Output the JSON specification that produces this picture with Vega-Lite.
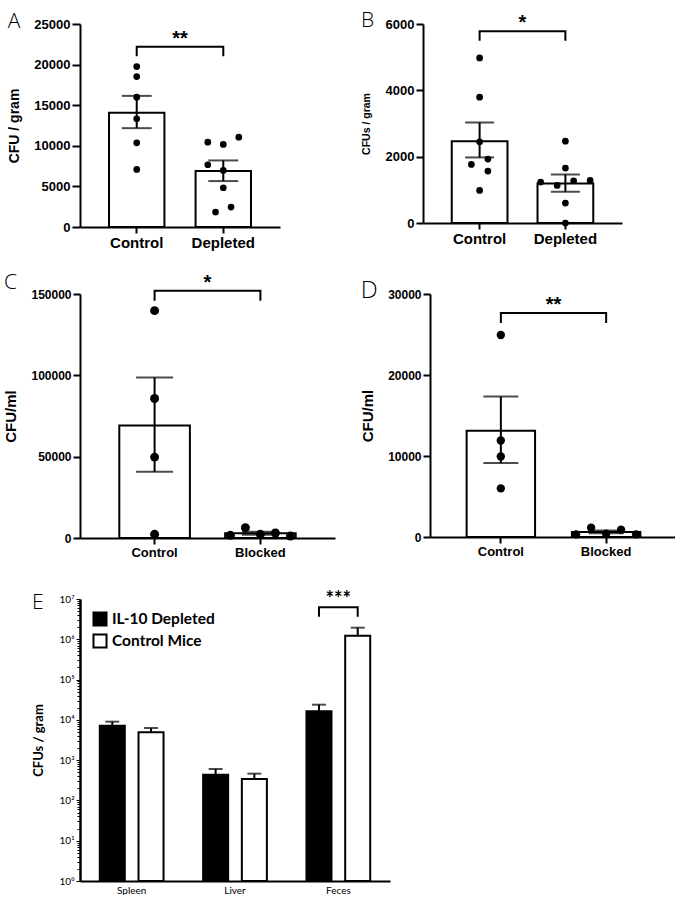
{
  "$schema": "https://vega.github.io/schema/vega-lite/v6.json",
  "padding": {"left": 3, "top": 10, "right": 0, "bottom": 0},
  "background": "white",
  "datasets": {
    "a_sum": [{"g": "Control", "mean": 14057, "lo": 12172, "hi": 16148}, {"g": "Depleted", "mean": 6885, "lo": 5656, "hi": 8197}],
    "a_pts": [
      {"g": "Control", "v": 19754, "lane": 0}, {"g": "Control", "v": 18525, "lane": 0}, {"g": "Control", "v": 15984, "lane": 0},
      {"g": "Control", "v": 13320, "lane": 0}, {"g": "Control", "v": 10369, "lane": 0}, {"g": "Control", "v": 7090, "lane": 0},
      {"g": "Depleted", "v": 10451, "lane": -1}, {"g": "Depleted", "v": 10164, "lane": 0}, {"g": "Depleted", "v": 11066, "lane": 1},
      {"g": "Depleted", "v": 7664, "lane": -1}, {"g": "Depleted", "v": 6967, "lane": 0}, {"g": "Depleted", "v": 4836, "lane": 0},
      {"g": "Depleted", "v": 2459, "lane": 0.5}, {"g": "Depleted", "v": 1844, "lane": -0.5}
    ],
    "a_br": [{"g": "Control", "v": 21024, "o": 1}, {"g": "Control", "v": 22213, "o": 2}, {"g": "Depleted", "v": 22213, "o": 3}, {"g": "Depleted", "v": 21024, "o": 4}],
    "a_txt": [{"g": "Control", "v": 22213, "t": "**"}],
    "b_sum": [{"g": "Control", "mean": 2468, "lo": 1977, "hi": 3030}, {"g": "Depleted", "mean": 1194, "lo": 943, "hi": 1465}],
    "b_pts": [
      {"g": "Control", "v": 4977, "lane": 0}, {"g": "Control", "v": 3793, "lane": 0}, {"g": "Control", "v": 2448, "lane": 0},
      {"g": "Control", "v": 1926, "lane": 0.5}, {"g": "Control", "v": 1766, "lane": -0.5}, {"g": "Control", "v": 1565, "lane": 0.5},
      {"g": "Control", "v": 983, "lane": 0},
      {"g": "Depleted", "v": 2468, "lane": 0}, {"g": "Depleted", "v": 1656, "lane": 0}, {"g": "Depleted", "v": 1234, "lane": -1.5},
      {"g": "Depleted", "v": 1134, "lane": -0.5}, {"g": "Depleted", "v": 1274, "lane": 0.5}, {"g": "Depleted", "v": 1284, "lane": 1.5},
      {"g": "Depleted", "v": 602, "lane": 0}, {"g": "Depleted", "v": 0, "lane": 0}
    ],
    "b_br": [{"g": "Control", "v": 5498, "o": 1}, {"g": "Control", "v": 5779, "o": 2}, {"g": "Depleted", "v": 5779, "o": 3}, {"g": "Depleted", "v": 5498, "o": 4}],
    "b_txt": [{"g": "Control", "v": 5779, "t": "*"}],
    "c_sum": [{"g": "Control", "mean": 69168, "lo": 40723, "hi": 98636}, {"g": "Blocked", "mean": 2906, "lo": 1992, "hi": 3820}],
    "c_pts": [
      {"g": "Control", "v": 139768, "lane": 0}, {"g": "Control", "v": 85743, "lane": 0}, {"g": "Control", "v": 49727, "lane": 0}, {"g": "Control", "v": 2251, "lane": 0},
      {"g": "Blocked", "v": 1637, "lane": -2}, {"g": "Blocked", "v": 6344, "lane": -1}, {"g": "Blocked", "v": 2251, "lane": 0},
      {"g": "Blocked", "v": 3070, "lane": 1}, {"g": "Blocked", "v": 1228, "lane": 2}
    ],
    "c_br": [{"g": "Control", "v": 145907, "o": 1}, {"g": "Control", "v": 152046, "o": 2}, {"g": "Blocked", "v": 152046, "o": 3}, {"g": "Blocked", "v": 145907, "o": 4}],
    "c_txt": [{"g": "Control", "v": 152046, "t": "*"}],
    "d_sum": [{"g": "Control", "mean": 13110, "lo": 9123, "hi": 17342}, {"g": "Blocked", "mean": 625, "lo": 455, "hi": 795}],
    "d_pts": [
      {"g": "Control", "v": 24945, "lane": 0}, {"g": "Control", "v": 11918, "lane": 0}, {"g": "Control", "v": 9945, "lane": 0}, {"g": "Control", "v": 6000, "lane": 0},
      {"g": "Blocked", "v": 329, "lane": -2}, {"g": "Blocked", "v": 1151, "lane": -1}, {"g": "Blocked", "v": 411, "lane": 0},
      {"g": "Blocked", "v": 904, "lane": 1}, {"g": "Blocked", "v": 329, "lane": 2}
    ],
    "d_br": [{"g": "Control", "v": 26425, "o": 1}, {"g": "Control", "v": 27658, "o": 2}, {"g": "Blocked", "v": 27658, "o": 3}, {"g": "Blocked", "v": 26425, "o": 4}],
    "d_txt": [{"g": "Control", "v": 27658, "t": "**"}],
    "e_bars": [
      {"site": "Spleen", "group": "IL-10 Depleted", "mean": 7175, "hi": 9010},
      {"site": "Spleen", "group": "Control Mice", "mean": 4900, "hi": 6280},
      {"site": "Liver", "group": "IL-10 Depleted", "mean": 436, "hi": 602},
      {"site": "Liver", "group": "Control Mice", "mean": 340, "hi": 462},
      {"site": "Feces", "group": "IL-10 Depleted", "mean": 16270, "hi": 23800},
      {"site": "Feces", "group": "Control Mice", "mean": 1230000, "hi": 1940000}
    ],
    "e_br": [
      {"site": "Feces", "group": "IL-10 Depleted", "v": 3640000, "o": 1},
      {"site": "Feces", "group": "IL-10 Depleted", "v": 6200000, "o": 2},
      {"site": "Feces", "group": "Control Mice", "v": 6200000, "o": 3},
      {"site": "Feces", "group": "Control Mice", "v": 3640000, "o": 4}
    ],
    "e_txt": [{"site": "Feces", "v": 6200000, "t": "***"}]
  },
  "config": {
    "view": {"stroke": null},
    "font": "Liberation Sans",
    "axis": {
      "grid": false, "domainColor": "black", "domainWidth": 2, "tickColor": "black", "tickWidth": 2,
      "labelColor": "black", "titleColor": "black", "labelFont": "Liberation Sans", "titleFont": "Liberation Sans",
      "labelFontWeight": "bold", "titleFontWeight": "bold"
    },
    "title": {"anchor": "start", "frame": "bounds", "baseline": "alphabetic", "font": "Open Sans", "fontWeight": 300, "fontSize": 21, "color": "black"}
  },
  "resolve": {"legend": {"fill": "independent"}, "scale": {"fill": "independent"}},
  "vconcat": [
    {
      "vconcat": [
        {
          "hconcat": [
            {
              "width": 200, "height": 203,
              "title": {"text": "A", "offset": -14},
              "resolve": {"scale": {"xOffset": "independent"}},
              "layer": [
                {"data": {"name": "a_sum"}, "mark": {"type": "bar", "fill": "white", "stroke": "black", "strokeWidth": 2, "width": {"band": 0.64}},
                 "encoding": {
                   "x": {"field": "g", "type": "nominal", "sort": ["Control", "Depleted"], "scale": {"paddingInner": 0, "paddingOuter": 0.155},
                         "axis": {"title": null, "labelAngle": 0, "labelFontSize": 15, "tickSize": 6, "labelPadding": 2}},
                   "y": {"field": "mean", "type": "quantitative", "scale": {"domain": [0, 25000], "nice": false},
                         "axis": {"title": "CFU / gram", "values": [0, 5000, 10000, 15000, 20000, 25000], "format": "d", "labelFontSize": 13, "titleFontSize": 14, "tickSize": 8, "labelPadding": 2, "titlePadding": 12}}
                 }},
                {"data": {"name": "a_sum"}, "mark": {"type": "rule", "color": "black", "strokeWidth": 2},
                 "encoding": {"x": {"field": "g", "type": "nominal", "sort": ["Control", "Depleted"]}, "y": {"field": "lo", "type": "quantitative"}, "y2": {"field": "hi"}}},
                {"data": {"name": "a_sum"}, "mark": {"type": "tick", "color": "black", "thickness": 2, "size": 30, "orient": "horizontal"},
                 "encoding": {"x": {"field": "g", "type": "nominal", "sort": ["Control", "Depleted"]}, "y": {"field": "hi", "type": "quantitative"}}},
                {"data": {"name": "a_sum"}, "mark": {"type": "tick", "color": "black", "thickness": 2, "size": 30, "orient": "horizontal"},
                 "encoding": {"x": {"field": "g", "type": "nominal", "sort": ["Control", "Depleted"]}, "y": {"field": "lo", "type": "quantitative"}}},
                {"data": {"name": "a_br"}, "mark": {"type": "line", "color": "black", "strokeWidth": 2},
                 "encoding": {"x": {"field": "g", "type": "nominal", "sort": ["Control", "Depleted"]}, "y": {"field": "v", "type": "quantitative"}, "order": {"field": "o"}}},
                {"data": {"name": "a_txt"}, "mark": {"type": "text", "font": "Liberation Sans", "fontWeight": "bold", "fontSize": 20, "baseline": "alphabetic", "dy": -2},
                 "encoding": {"x": {"field": "g", "type": "nominal", "sort": ["Control", "Depleted"], "bandPosition": 1}, "y": {"field": "v", "type": "quantitative"}, "text": {"field": "t"}}},
                {"data": {"name": "a_pts"}, "mark": {"type": "circle", "color": "black", "opacity": 1, "size": 45},
                 "encoding": {"x": {"field": "g", "type": "nominal", "sort": ["Control", "Depleted"]},
                   "xOffset": {"field": "lane", "type": "quantitative", "scale": {"domain": [-1, 1], "range": [27.8, 58.8]}},
                   "y": {"field": "v", "type": "quantitative"}}}
              ]
            },
            {
              "width": 199, "height": 199,
              "title": {"text": "B", "offset": -18},
              "resolve": {"scale": {"xOffset": "independent"}},
              "layer": [
                {"data": {"name": "b_sum"}, "mark": {"type": "bar", "fill": "white", "stroke": "black", "strokeWidth": 2, "width": {"band": 0.65}},
                 "encoding": {
                   "x": {"field": "g", "type": "nominal", "sort": ["Control", "Depleted"], "scale": {"paddingInner": 0, "paddingOuter": 0.16},
                         "axis": {"title": null, "labelAngle": 0, "labelFontSize": 15, "tickSize": 6, "labelPadding": 2}},
                   "y": {"field": "mean", "type": "quantitative", "scale": {"domain": [0, 6000], "nice": false},
                         "axis": {"title": "CFUs / gram", "values": [0, 2000, 4000, 6000], "format": "d", "labelFontSize": 13, "titleFontSize": 10.5, "tickSize": 7, "labelPadding": 2, "titlePadding": 14}}
                 }},
                {"data": {"name": "b_sum"}, "mark": {"type": "rule", "color": "black", "strokeWidth": 2},
                 "encoding": {"x": {"field": "g", "type": "nominal", "sort": ["Control", "Depleted"]}, "y": {"field": "lo", "type": "quantitative"}, "y2": {"field": "hi"}}},
                {"data": {"name": "b_sum"}, "mark": {"type": "tick", "color": "black", "thickness": 2, "size": 29, "orient": "horizontal"},
                 "encoding": {"x": {"field": "g", "type": "nominal", "sort": ["Control", "Depleted"]}, "y": {"field": "hi", "type": "quantitative"}}},
                {"data": {"name": "b_sum"}, "mark": {"type": "tick", "color": "black", "thickness": 2, "size": 29, "orient": "horizontal"},
                 "encoding": {"x": {"field": "g", "type": "nominal", "sort": ["Control", "Depleted"]}, "y": {"field": "lo", "type": "quantitative"}}},
                {"data": {"name": "b_br"}, "mark": {"type": "line", "color": "black", "strokeWidth": 2},
                 "encoding": {"x": {"field": "g", "type": "nominal", "sort": ["Control", "Depleted"]}, "y": {"field": "v", "type": "quantitative"}, "order": {"field": "o"}}},
                {"data": {"name": "b_txt"}, "mark": {"type": "text", "font": "Liberation Sans", "fontWeight": "bold", "fontSize": 20, "baseline": "alphabetic", "dy": -2},
                 "encoding": {"x": {"field": "g", "type": "nominal", "sort": ["Control", "Depleted"], "bandPosition": 1}, "y": {"field": "v", "type": "quantitative"}, "text": {"field": "t"}}},
                {"data": {"name": "b_pts"}, "mark": {"type": "circle", "color": "black", "opacity": 1, "size": 45},
                 "encoding": {"x": {"field": "g", "type": "nominal", "sort": ["Control", "Depleted"]},
                   "xOffset": {"field": "lane", "type": "quantitative", "scale": {"domain": [-1, 1], "range": [26.4, 59.4]}},
                   "y": {"field": "v", "type": "quantitative"}}}
              ]
            }
          ],
          "spacing": 81
        },
        {
          "hconcat": [
            {
              "width": 255, "height": 244,
              "title": {"text": "C", "offset": -20},
              "resolve": {"scale": {"xOffset": "independent"}},
              "layer": [
                {"data": {"name": "c_sum"}, "mark": {"type": "bar", "fill": "white", "stroke": "black", "strokeWidth": 2, "width": {"band": 0.667}},
                 "encoding": {
                   "x": {"field": "g", "type": "nominal", "sort": ["Control", "Blocked"], "scale": {"paddingInner": 0, "paddingOuter": 0.205},
                         "axis": {"title": null, "labelAngle": 0, "labelFontSize": 13, "tickSize": 6, "labelPadding": 2}},
                   "y": {"field": "mean", "type": "quantitative", "scale": {"domain": [0, 150000], "nice": false},
                         "axis": {"title": "CFU/ml", "values": [0, 50000, 100000, 150000], "format": "d", "labelFontSize": 12, "titleFontSize": 15, "tickSize": 7, "labelPadding": 2, "titlePadding": 12}}
                 }},
                {"data": {"name": "c_sum"}, "mark": {"type": "rule", "color": "black", "strokeWidth": 2},
                 "encoding": {"x": {"field": "g", "type": "nominal", "sort": ["Control", "Blocked"]}, "y": {"field": "lo", "type": "quantitative"}, "y2": {"field": "hi"}}},
                {"data": {"name": "c_sum"}, "mark": {"type": "tick", "color": "black", "thickness": 2, "size": 37, "orient": "horizontal"},
                 "encoding": {"x": {"field": "g", "type": "nominal", "sort": ["Control", "Blocked"]}, "y": {"field": "hi", "type": "quantitative"}}},
                {"data": {"name": "c_sum"}, "mark": {"type": "tick", "color": "black", "thickness": 2, "size": 37, "orient": "horizontal"},
                 "encoding": {"x": {"field": "g", "type": "nominal", "sort": ["Control", "Blocked"]}, "y": {"field": "lo", "type": "quantitative"}}},
                {"data": {"name": "c_br"}, "mark": {"type": "line", "color": "black", "strokeWidth": 2},
                 "encoding": {"x": {"field": "g", "type": "nominal", "sort": ["Control", "Blocked"]}, "y": {"field": "v", "type": "quantitative"}, "order": {"field": "o"}}},
                {"data": {"name": "c_txt"}, "mark": {"type": "text", "font": "Liberation Sans", "fontWeight": "bold", "fontSize": 20, "baseline": "alphabetic", "dy": -2},
                 "encoding": {"x": {"field": "g", "type": "nominal", "sort": ["Control", "Blocked"], "bandPosition": 1}, "y": {"field": "v", "type": "quantitative"}, "text": {"field": "t"}}},
                {"data": {"name": "c_pts"}, "mark": {"type": "circle", "color": "black", "opacity": 1, "size": 80},
                 "encoding": {"x": {"field": "g", "type": "nominal", "sort": ["Control", "Blocked"]},
                   "xOffset": {"field": "lane", "type": "quantitative", "scale": {"domain": [-1, 1], "range": [37.9, 67.9]}},
                   "y": {"field": "v", "type": "quantitative"}}}
              ]
            },
            {
              "width": 247, "height": 243,
              "title": {"text": "D", "offset": -15, "fontSize": 24},
              "resolve": {"scale": {"xOffset": "independent"}},
              "layer": [
                {"data": {"name": "d_sum"}, "mark": {"type": "bar", "fill": "white", "stroke": "black", "strokeWidth": 2, "width": {"band": 0.65}},
                 "encoding": {
                   "x": {"field": "g", "type": "nominal", "sort": ["Control", "Blocked"], "scale": {"paddingInner": 0, "paddingOuter": 0.173},
                         "axis": {"title": null, "labelAngle": 0, "labelFontSize": 13, "tickSize": 6, "labelPadding": 2}},
                   "y": {"field": "mean", "type": "quantitative", "scale": {"domain": [0, 30000], "nice": false},
                         "axis": {"title": "CFU/ml", "values": [0, 10000, 20000, 30000], "format": "d", "labelFontSize": 12, "titleFontSize": 15, "tickSize": 7, "labelPadding": 2, "titlePadding": 12}}
                 }},
                {"data": {"name": "d_sum"}, "mark": {"type": "rule", "color": "black", "strokeWidth": 2},
                 "encoding": {"x": {"field": "g", "type": "nominal", "sort": ["Control", "Blocked"]}, "y": {"field": "lo", "type": "quantitative"}, "y2": {"field": "hi"}}},
                {"data": {"name": "d_sum"}, "mark": {"type": "tick", "color": "black", "thickness": 2, "size": 35, "orient": "horizontal"},
                 "encoding": {"x": {"field": "g", "type": "nominal", "sort": ["Control", "Blocked"]}, "y": {"field": "hi", "type": "quantitative"}}},
                {"data": {"name": "d_sum"}, "mark": {"type": "tick", "color": "black", "thickness": 2, "size": 35, "orient": "horizontal"},
                 "encoding": {"x": {"field": "g", "type": "nominal", "sort": ["Control", "Blocked"]}, "y": {"field": "lo", "type": "quantitative"}}},
                {"data": {"name": "d_br"}, "mark": {"type": "line", "color": "black", "strokeWidth": 2},
                 "encoding": {"x": {"field": "g", "type": "nominal", "sort": ["Control", "Blocked"]}, "y": {"field": "v", "type": "quantitative"}, "order": {"field": "o"}}},
                {"data": {"name": "d_txt"}, "mark": {"type": "text", "font": "Liberation Sans", "fontWeight": "bold", "fontSize": 20, "baseline": "alphabetic", "dy": -2},
                 "encoding": {"x": {"field": "g", "type": "nominal", "sort": ["Control", "Blocked"], "bandPosition": 1}, "y": {"field": "v", "type": "quantitative"}, "text": {"field": "t"}}},
                {"data": {"name": "d_pts"}, "mark": {"type": "circle", "color": "black", "opacity": 1, "size": 70},
                 "encoding": {"x": {"field": "g", "type": "nominal", "sort": ["Control", "Blocked"]},
                   "xOffset": {"field": "lane", "type": "quantitative", "scale": {"domain": [-1, 1], "range": [37.6, 67.6]}},
                   "y": {"field": "v", "type": "quantitative"}}}
              ]
            }
          ],
          "spacing": 25
        }
      ],
      "spacing": 21
    },
    {
      "width": 310, "height": 282,
      "title": {"text": "E", "offset": -23},
      "layer": [
        {"data": {"name": "e_bars"}, "mark": {"type": "bar", "stroke": "black", "strokeWidth": 2},
         "encoding": {
           "x": {"field": "site", "type": "nominal", "sort": ["Spleen", "Liver", "Feces"], "scale": {"paddingInner": 0.383, "paddingOuter": 0.1915},
                 "axis": {"title": null, "labelAngle": 0, "ticks": false, "labelFont": "Lato", "labelFontWeight": "normal", "labelFontSize": 10, "labelPadding": 4, "domainWidth": 2}},
           "xOffset": {"field": "group", "type": "nominal", "sort": ["IL-10 Depleted", "Control Mice"], "scale": {"paddingInner": 0.354, "paddingOuter": 0}},
           "y": {"field": "mean", "type": "quantitative", "scale": {"type": "log", "domain": [1, 10000000]},
                 "axis": {"title": "CFUs / gram", "titleFont": "Lato", "titleFontSize": 13, "titlePadding": 14, "labelFont": "Lato", "labelFontWeight": "normal", "labelFontSize": 10, "labelOverlap": false, "labelPadding": 2,
                          "domainWidth": 2.5, "tickWidth": 1,
                          "tickSize": {"condition": {"test": "abs(log(datum.value)/LN10 - round(log(datum.value)/LN10)) < 0.000001", "value": 4}, "value": 3},
                          "values": [1,2,3,4,5,6,7,8,9,10,20,30,40,50,60,70,80,90,100,200,300,400,500,600,700,800,900,1000,2000,3000,4000,5000,6000,7000,8000,9000,10000,20000,30000,40000,50000,60000,70000,80000,90000,100000,200000,300000,400000,500000,600000,700000,800000,900000,1000000,2000000,3000000,4000000,5000000,6000000,7000000,8000000,9000000,10000000],
                          "labelExpr": "abs(log(datum.value)/LN10 - round(log(datum.value)/LN10)) < 0.000001 ? '10' + ['⁰','¹','²','³','⁴','⁵','⁶','⁷'][round(log(datum.value)/LN10)] : ''"}},
           "y2": {"datum": 1},
           "fill": {"field": "group", "type": "nominal", "scale": {"domain": ["IL-10 Depleted", "Control Mice"], "range": ["black", "white"]},
                    "legend": {"title": null, "orient": "top-left", "offset": 10, "symbolType": "square", "symbolSize": 170, "symbolStrokeColor": "black", "symbolStrokeWidth": 2,
                               "labelFont": "Lato", "labelFontWeight": "bold", "labelFontSize": 15.5, "labelColor": "black", "rowPadding": 0, "padding": 2}}
         }},
        {"data": {"name": "e_bars"}, "mark": {"type": "rule", "color": "black", "strokeWidth": 2},
         "encoding": {"x": {"field": "site", "type": "nominal", "sort": ["Spleen", "Liver", "Feces"]},
           "xOffset": {"field": "group", "type": "nominal", "sort": ["IL-10 Depleted", "Control Mice"]},
           "y": {"field": "mean", "type": "quantitative"}, "y2": {"field": "hi"}}},
        {"data": {"name": "e_bars"}, "mark": {"type": "tick", "color": "black", "thickness": 2, "size": 14, "orient": "horizontal"},
         "encoding": {"x": {"field": "site", "type": "nominal", "sort": ["Spleen", "Liver", "Feces"]},
           "xOffset": {"field": "group", "type": "nominal", "sort": ["IL-10 Depleted", "Control Mice"]},
           "y": {"field": "hi", "type": "quantitative"}}},
        {"data": {"name": "e_br"}, "mark": {"type": "line", "color": "black", "strokeWidth": 2},
         "encoding": {"x": {"field": "site", "type": "nominal", "sort": ["Spleen", "Liver", "Feces"]},
           "xOffset": {"field": "group", "type": "nominal", "sort": ["IL-10 Depleted", "Control Mice"]},
           "y": {"field": "v", "type": "quantitative"}, "order": {"field": "o"}}},
        {"data": {"name": "e_txt"}, "mark": {"type": "text", "font": "Lato", "fontWeight": "bold", "fontSize": 20, "baseline": "alphabetic", "dy": -1},
         "encoding": {"x": {"field": "site", "type": "nominal", "sort": ["Spleen", "Liver", "Feces"]}, "y": {"field": "v", "type": "quantitative"}, "text": {"field": "t"}}}
      ]
    }
  ],
  "spacing": 31
}
